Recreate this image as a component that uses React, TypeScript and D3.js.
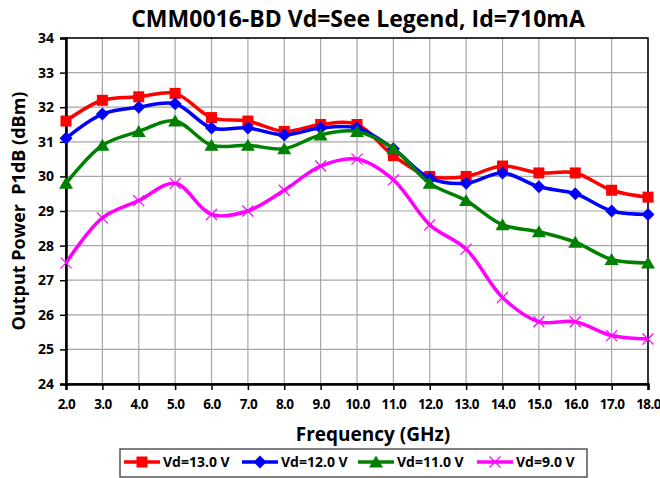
import React, { useEffect, useRef } from 'react';
import * as d3 from 'd3';

// frequency points (GHz)
const freqs = [2, 3, 4, 5, 6, 7, 8, 9, 10, 11, 12, 13, 14, 15, 16, 17, 18];

// P1dB (dBm) per drain voltage
const vd13 = [31.6, 32.2, 32.3, 32.4, 31.7, 31.6, 31.3, 31.5, 31.5, 30.6, 30.0, 30.0, 30.3, 30.1, 30.1, 29.6, 29.4];
const vd12 = [31.1, 31.8, 32.0, 32.1, 31.4, 31.4, 31.2, 31.4, 31.4, 30.8, 29.95, 29.8, 30.1, 29.7, 29.5, 29.0, 28.9];
const vd11 = [29.8, 30.9, 31.3, 31.6, 30.9, 30.9, 30.8, 31.2, 31.3, 30.8, 29.8, 29.3, 28.6, 28.4, 28.1, 27.6, 27.5];
const vd9 = [27.5, 28.8, 29.3, 29.8, 28.9, 29.0, 29.6, 30.3, 30.5, 29.9, 28.6, 27.9, 26.5, 25.8, 25.8, 25.4, 25.3];

const seriesLabels = ['Vd=13.0 V', 'Vd=12.0 V', 'Vd=11.0 V', 'Vd=9.0 V'];
const seriesColors = ['#ff0000', '#0000ff', '#008000', '#ff00ff'];
const seriesMarkers = ['square', 'diamond', 'triangle', 'cross'];

const yTicks = [24, 25, 26, 27, 28, 29, 30, 31, 32, 33, 34];

const FONT = '"Open Sans", "DejaVu Sans", sans-serif';

function drawMarker(g, kind, color) {
  if (kind === 'square') {
    g.append('rect').attr('x', -5.5).attr('y', -5.5).attr('width', 11).attr('height', 11).attr('fill', color);
  } else if (kind === 'diamond') {
    g.append('path').attr('d', 'M0,-6.5L6.5,0L0,6.5L-6.5,0Z').attr('fill', color);
  } else if (kind === 'triangle') {
    g.append('path').attr('d', 'M0,-6.5L7,5.5L-7,5.5Z').attr('fill', color);
  } else {
    g.append('path').attr('d', 'M-5.5,-5.5L5.5,5.5M-5.5,5.5L5.5,-5.5').attr('stroke', color).attr('stroke-width', 1.2).attr('fill', 'none');
  }
}

export default function App() {
  const ref = useRef(null);

  useEffect(() => {
    const W = 660, H = 478;
    const svg = d3.select(ref.current);
    svg.selectAll('*').remove();
    svg.attr('width', W).attr('height', H).style('font-family', FONT);

    const x = d3.scaleLinear().domain([2, 18]).range([66, 648]);
    const y = d3.scaleLinear().domain([24, 34]).range([384, 38]);

    svg.append('rect').attr('width', W).attr('height', H).attr('fill', '#fff');

    // grid
    svg.append('g').selectAll('line').data(freqs).enter().append('line')
      .attr('x1', d => x(d)).attr('x2', d => x(d)).attr('y1', y(24)).attr('y2', y(34))
      .attr('stroke', '#a6a6a6').attr('stroke-width', 1.2);
    svg.append('g').selectAll('line').data(yTicks).enter().append('line')
      .attr('x1', x(2)).attr('x2', x(18)).attr('y1', d => y(d)).attr('y2', d => y(d))
      .attr('stroke', '#a6a6a6').attr('stroke-width', 1.2);

    svg.append('rect').attr('x', x(2)).attr('y', y(34)).attr('width', x(18) - x(2)).attr('height', y(24) - y(34))
      .attr('fill', 'none').attr('stroke', '#000').attr('stroke-width', 1.5);

    // axes
    const yAxis = svg.append('g').attr('transform', `translate(${x(2)},0)`)
      .call(d3.axisLeft(y).tickValues(yTicks).tickSize(6).tickPadding(6).tickFormat(d3.format('d')));
    const xAxis = svg.append('g').attr('transform', `translate(0,${y(24)})`)
      .call(d3.axisBottom(x).tickValues(freqs).tickSize(6).tickPadding(9).tickFormat(d3.format('.1f')));
    [yAxis, xAxis].forEach(a => {
      a.select('.domain').attr('stroke', '#000').attr('stroke-width', 2.5);
      a.selectAll('.tick line').attr('stroke', '#000').attr('stroke-width', 1.5);
      a.selectAll('text').attr('font-family', FONT).attr('font-weight', 'bold').attr('font-size', 14).attr('fill', '#000');
    });
    xAxis.selectAll('text').attr('font-size', 13.5).attr('letter-spacing', -0.6);

    // series
    const allSeries = [vd13, vd12, vd11, vd9];
    const line = d3.line().x(d => x(d[0])).y(d => y(d[1])).curve(d3.curveCatmullRom.alpha(0.5));
    allSeries.forEach((vals, i) => {
      const pts = freqs.map((f, j) => [f, vals[j]]);
      svg.append('path').datum(pts).attr('d', line)
        .attr('fill', 'none').attr('stroke', seriesColors[i]).attr('stroke-width', 3.5)
        .attr('stroke-linejoin', 'round');
      pts.forEach(p => {
        const g = svg.append('g').attr('transform', `translate(${x(p[0])},${y(p[1])})`);
        drawMarker(g, seriesMarkers[i], seriesColors[i]);
      });
    });

    // titles
    svg.append('text').attr('x', 358).attr('y', 27).attr('text-anchor', 'middle')
      .attr('font-weight', 'bold').attr('font-size', 23).text('CMM0016-BD Vd=See Legend, Id=710mA');
    svg.append('text').attr('x', 373).attr('y', 441).attr('text-anchor', 'middle')
      .attr('font-weight', 'bold').attr('font-size', 19).text('Frequency (GHz)');
    svg.append('text').attr('transform', 'translate(25,211) rotate(-90)').attr('text-anchor', 'middle')
      .attr('font-weight', 'bold').attr('font-size', 18).style('white-space', 'pre')
      .text('Output Power  P1dB (dBm)');

    // legend
    const lg = svg.append('g');
    lg.append('rect').attr('x', 120).attr('y', 449).attr('width', 467).attr('height', 28)
      .attr('fill', '#fff').attr('stroke', '#555').attr('stroke-width', 1.5);
    const itemX = [124, 242, 358, 477];
    seriesLabels.forEach((lab, i) => {
      const cy = 462;
      lg.append('line').attr('x1', itemX[i]).attr('x2', itemX[i] + 36).attr('y1', cy).attr('y2', cy)
        .attr('stroke', seriesColors[i]).attr('stroke-width', 3.5);
      const g = lg.append('g').attr('transform', `translate(${itemX[i] + 18},${cy})`);
      drawMarker(g, seriesMarkers[i], seriesColors[i]);
      lg.append('text').attr('x', itemX[i] + 39).attr('y', cy + 5).attr('font-weight', 'bold').attr('font-size', 14)
        .text(lab);
    });
  }, []);

  return <svg ref={ref} style={{ position: 'absolute', left: 0, top: 0 }} />;
}
